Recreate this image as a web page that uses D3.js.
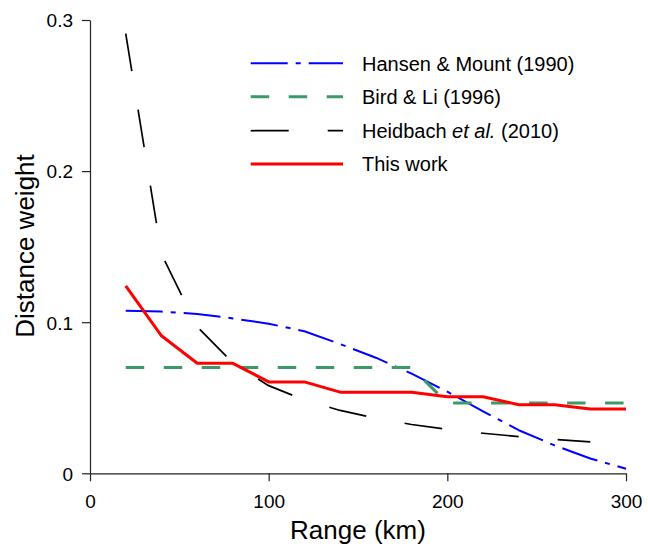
<!DOCTYPE html>
<html>
<head>
<meta charset="utf-8">
<script src="https://cdn.jsdelivr.net/npm/d3@7"></script>
<style>
  html, body { margin: 0; padding: 0; background: #fff; }
  svg { display: block; }
  text { font-family: "Liberation Sans", Arial, sans-serif; fill: #000; }
</style>
</head>
<body>
<svg id="chart" width="648" height="554"></svg>
<script>
// ---- Data ----
const xTicks = [0, 100, 200, 300];
const yTicks = [0, 0.1, 0.2, 0.3];

const hansenX = [20, 40, 60, 80, 100, 120, 140, 160, 180, 200, 220, 240, 260, 280, 300];
const hansenY = [0.1075, 0.107, 0.1055, 0.1025, 0.099, 0.094, 0.0855, 0.0765, 0.066, 0.054, 0.041, 0.0285, 0.0185, 0.0098, 0.003];

const birdX = [20, 40, 60, 80, 100, 120, 140, 160, 180, 200, 220, 240, 260, 280, 300];
const birdY = [0.070, 0.070, 0.070, 0.070, 0.070, 0.070, 0.070, 0.070, 0.070, 0.0465, 0.0465, 0.0465, 0.0465, 0.0465, 0.0465];

const heidX = [20, 40, 60, 80, 100, 120, 140, 160, 180, 200, 220, 240, 260, 280];
const heidY = [0.291, 0.145, 0.097, 0.073, 0.058, 0.0485, 0.0416, 0.0364, 0.0323, 0.0291, 0.0265, 0.0243, 0.0224, 0.0208];

const thisX = [20, 40, 60, 80, 100, 120, 140, 160, 180, 200, 220, 240, 260, 280, 300];
const thisY = [0.124, 0.091, 0.0728, 0.0728, 0.0605, 0.0605, 0.0537, 0.0537, 0.0537, 0.0507, 0.0507, 0.0454, 0.0454, 0.0426, 0.0426];

const legendLabels = ["Hansen & Mount (1990)", "Bird & Li (1996)", "Heidbach et al. (2010)", "This work"];

// ---- Layout ----
const svg = d3.select("#chart");
const x = d3.scaleLinear().domain([0, 300]).range([90, 626]);
const y = d3.scaleLinear().domain([0, 0.3]).range([473.3, 20]);

const series = [
  { xs: hansenX, ys: hansenY, color: "#0000ff", width: 2, dash: "37,8,5,8" },
  { xs: birdX, ys: birdY, color: "#3a9a68", width: 3, dash: "18.5,19.5" },
  { xs: heidX, ys: heidY, color: "#000000", width: 1.7, dash: "38,39" },
  { xs: thisX, ys: thisY, color: "#ff0000", width: 3, dash: null }
];

const line = d3.line().x(d => x(d[0])).y(d => y(d[1]));

series.forEach(s => {
  const pts = s.xs.map((v, i) => [v, s.ys[i]]);
  svg.append("path")
    .attr("d", line(pts))
    .attr("fill", "none")
    .attr("stroke", s.color)
    .attr("stroke-width", s.width)
    .attr("stroke-dasharray", s.dash)
    .attr("stroke-linejoin", "round");
});

// ---- Axes ----
const xAxis = d3.axisBottom(x).tickValues(xTicks).tickSize(8).tickSizeOuter(0).tickPadding(4)
  .tickFormat(d3.format("d"));
const yAxis = d3.axisLeft(y).tickValues(yTicks).tickSize(8).tickSizeOuter(0).tickPadding(8)
  .tickFormat(d => d === 0 ? "0" : d3.format(".1f")(d));

const gx = svg.append("g").attr("transform", "translate(0,473.3)").call(xAxis);
const gy = svg.append("g").attr("transform", "translate(90,0)").call(yAxis);
[gx, gy].forEach(g => {
  g.selectAll("path.domain").attr("stroke", "#222").attr("stroke-width", 1.2);
  g.selectAll(".tick line").attr("stroke", "#222").attr("stroke-width", 1.2);
  g.selectAll(".tick text").attr("font-family", "'Liberation Sans', Arial, sans-serif")
    .attr("font-size", 19).attr("fill", "#000");
});
gx.selectAll(".tick text").attr("dy", null).attr("y", null)
  .attr("transform", null).attr("dominant-baseline", null)
  .each(function () { d3.select(this).attr("y", 35); });
gy.selectAll(".tick text").attr("x", -17).attr("dy", "0.36em");

// ---- Axis titles ----
svg.append("text").attr("x", 358).attr("y", 538.5).attr("text-anchor", "middle")
  .attr("font-size", 26).text("Range (km)");
svg.append("text").attr("transform", "translate(33.5,246) rotate(-90)")
  .attr("text-anchor", "middle").attr("font-size", 26).text("Distance weight");

// ---- Legend ----
const legY = [63.3, 96.7, 130.7, 164];
series.forEach((s, i) => {
  svg.append("line")
    .attr("x1", 250.7).attr("x2", 343)
    .attr("y1", legY[i]).attr("y2", legY[i])
    .attr("stroke", s.color).attr("stroke-width", s.width)
    .attr("stroke-dasharray", s.dash);
  const t = svg.append("text").attr("x", 362).attr("y", legY[i] + 7.3).attr("font-size", 20);
  const lab = legendLabels[i];
  if (lab.includes("et al.")) {
    const parts = lab.split("et al.");
    t.append("tspan").text(parts[0]);
    t.append("tspan").attr("font-style", "italic").text("et al.");
    t.append("tspan").text(parts[1]);
  } else {
    t.text(lab);
  }
});
</script>
</body>
</html>
